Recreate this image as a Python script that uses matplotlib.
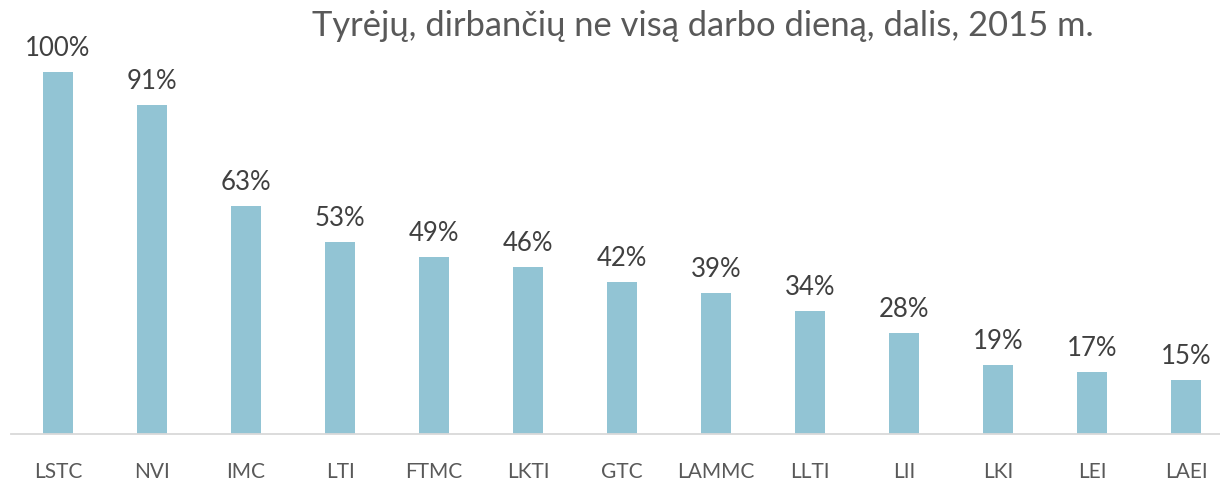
import matplotlib.pyplot as plt

plt.rcParams['font.family'] = ['Lato', 'DejaVu Sans']

institutai = ['LSTC', 'NVI', 'IMC', 'LTI', 'FTMC', 'LKTI', 'GTC', 'LAMMC',
              'LLTI', 'LII', 'LKI', 'LEI', 'LAEI']
dalis = [100, 91, 63, 53, 49, 46, 42, 39, 34, 28, 19, 17, 15]

W, H = 1220, 481
fig = plt.figure(figsize=(W/100, H/100), dpi=100)
# axes box in pixels: left 11, baseline y=435, 100% at y=73
ax = fig.add_axes([11/W, (H-435)/H, 1222/W, (435-73)/H])

x = range(len(institutai))
ax.bar(x, dalis, width=0.32, color='#92C4D4')
ax.set_xlim(-0.5, len(institutai)-0.5)
ax.set_ylim(0, 100)

for xi, v in zip(x, dalis):
    ax.annotate(f'{v}%', (xi, v), xytext=(0, 17), textcoords='offset pixels',
                ha='center', va='baseline', fontsize=18.5, color='#404040')

ax.set_xticks(list(x))
ax.set_xticklabels(institutai, fontsize=15, color='#595959')
ax.tick_params(axis='x', length=0, pad=19.5)
ax.set_yticks([])
for s in ['top', 'left', 'right']:
    ax.spines[s].set_visible(False)
ax.spines['bottom'].set_color('#D9D9D9')
ax.spines['bottom'].set_linewidth(1.3)
ax.patch.set_visible(False)

fig.text(702.5/W, (H-36)/H, 'Tyrėjų, dirbančių ne visą darbo dieną, dalis, 2015 m.',
         ha='center', va='baseline', fontsize=24.8, color='#595959')

fig.savefig('out.png', dpi=100)
